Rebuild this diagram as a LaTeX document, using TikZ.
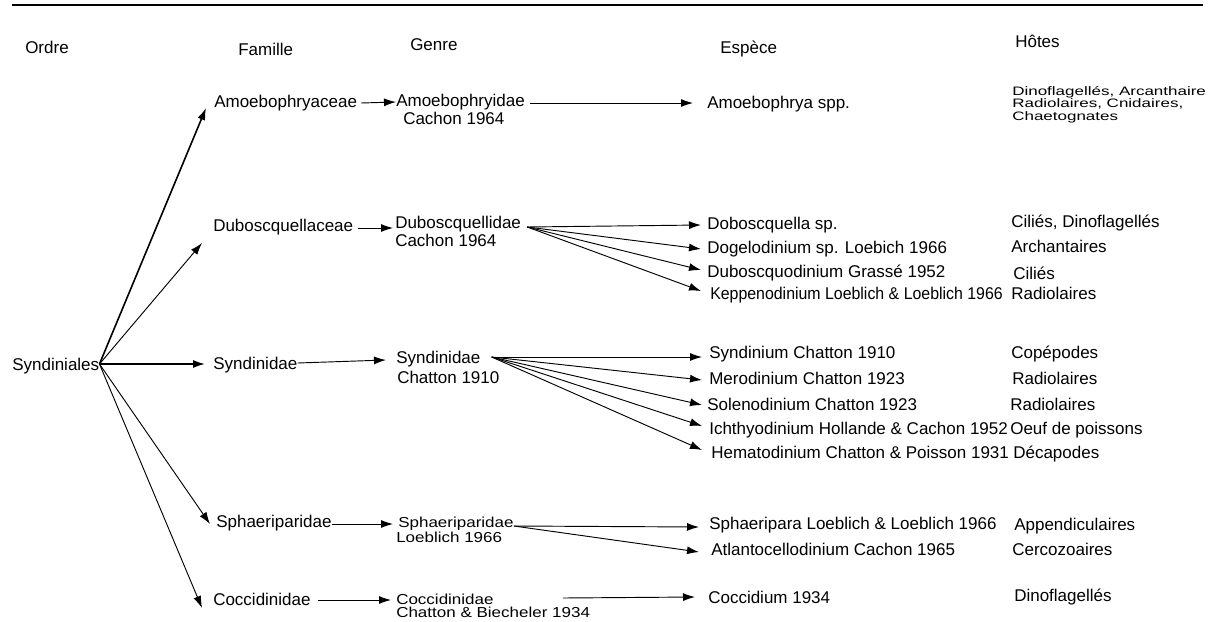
\documentclass[tikz,border=0pt]{standalone}
\usepackage{fontspec}
\usepackage{graphicx}
\setmainfont{Liberation Sans}
\usetikzlibrary{arrows.meta}

\tikzset{
  lbl/.style={anchor=west, inner sep=0pt, text height=9pt, text depth=0pt,
    font=\fontsize{12.75}{14}\selectfont},
  arr/.style={-{Latex[length=9pt,width=6pt]}, line width=0.7pt},
  barr/.style={arr, line width=1.2pt}
}
\newcommand\squashy[1]{\scalebox{1}[0.85]{#1}}

\begin{document}
\begin{tikzpicture}[x=0.75pt,y=-0.75pt]

\useasboundingbox (0,0) rectangle (1216,621);
\draw[line width=1.5pt] (12,5) -- (1203,5);

% titres des colonnes
\node[lbl] (hOrd) at (25,47) {Ordre};
\node[lbl] (hFam) at (238,49) {Famille};
\node[lbl] (hGen) at (410,44) {Genre};
\node[lbl] (hEsp) at (720,47) {Espèce};
\node[lbl] (hHot) at (1015,41) {Hôtes};

\node[lbl] (ord) at (12,364) {Syndiniales};

% familles
\node[lbl] (famA) at (214,101) {Amoebophryaceae};
\node[lbl] (famB) at (213,225) {Duboscquellaceae};
\node[lbl] (famC) at (213,363) {Syndinidae};
\node[lbl] (famD) at (216,521) {Sphaeriparidae};
\node[lbl] (famE) at (213,599) {Coccidinidae};

% genres
\node[lbl] (genA) at (396,100) {Amoebophryidae};
\node[lbl] (genAa) at (403,118) {Cachon 1964};
\node[lbl] (genB) at (395,222) {Duboscquellidae};
\node[lbl] (genBa) at (395,240) {Cachon 1964};
\node[lbl] (genC) at (396,357) {Syndinidae};
\node[lbl] (genCa) at (397,377) {Chatton 1910};
\node[lbl] (genD) at (398,521) {\squashy{Sphaeriparidae}};
\node[lbl] (genDa) at (396,536) {\squashy{Loeblich 1966}};
\node[lbl] (genE) at (396,598) {\squashy{Coccidinidae}};
\node[lbl] (genEa) at (396,611) {\squashy{Chatton \& Biecheler 1934}};

% especes
\node[lbl] (spA1) at (707,102) {Amoebophrya spp.};
\node[lbl] (spB1) at (707,223) {Doboscquella sp.};
\node[lbl] (spB2) at (707,247) {Dogelodinium sp. Loebich 1966};
\node[lbl] (spB3) at (707,271) {Duboscquodinium Grassé 1952};
\node[lbl] (spB4) at (710,293) {\scalebox{0.935}[1]{Keppenodinium Loeblich \& Loeblich 1966}};
\node[lbl] (spC1) at (709,352) {Syndinium Chatton 1910};
\node[lbl] (spC2) at (709,378) {Merodinium Chatton 1923};
\node[lbl] (spC3) at (707,404) {Solenodinium Chatton 1923};
\node[lbl] (spC4) at (709,428) {Ichthyodinium Hollande \& Cachon 1952};
\node[lbl] (spC5) at (711,452) {Hematodinium Chatton \& Poisson 1931};
\node[lbl] (spD1) at (709,523) {Sphaeripara Loeblich \& Loeblich 1966};
\node[lbl] (spD2) at (711,549) {Atlantocellodinium Cachon 1965};
\node[lbl] (spE1) at (708,597) {Coccidium 1934};

% hotes
\node[anchor=west,inner sep=0pt] (hoA) at (1012,105) {\scalebox{1}[0.72]{\fontsize{12.75}{11.5}\selectfont
  \begin{tabular}{@{}l@{}}Dinoflagellés, Arcanthaire\\ Radiolaires, Cnidaires,\\ Chaetognates\end{tabular}}};
\node[lbl] (hoB1) at (1011,221) {Ciliés, Dinoflagellés};
\node[lbl] (hoB2) at (1011,246) {Archantaires};
\node[lbl] (hoB3) at (1013,273) {Ciliés};
\node[lbl] (hoB4) at (1011,293) {Radiolaires};
\node[lbl] (hoC1) at (1011,352) {Copépodes};
\node[lbl] (hoC2) at (1012,378) {Radiolaires};
\node[lbl] (hoC3) at (1010,404) {Radiolaires};
\node[lbl] (hoC4) at (1010,428) {Oeuf de poissons};
\node[lbl] (hoC5) at (1013,452) {Décapodes};
\node[lbl] (hoD1) at (1014,524) {Appendiculaires};
\node[lbl] (hoD2) at (1012,549) {Cercozoaires};
\node[lbl] (hoE1) at (1014,595) {Dinoflagellés};

% ordre -> familles
\draw[barr] (ord.east) -- ([shift={(-8,7)}]famA.west);
\draw[arr] (ord.east) -- ([shift={(-11,18)}]famB.west);
\draw[barr] (ord.east) -- ([shift={(-8,1)}]famC.west);
\draw[arr] (ord.east) -- ([shift={(-6,3)}]famD.west);
\draw[arr] (ord.east) -- ([shift={(-11,9)}]famE.west);

% familles -> genres
\draw[arr] ([shift={(4,2)}]famA.east) -- ([shift={(0,2)}]genA.west);
\draw[arr] ([shift={(5,3)}]famB.east) -- ([shift={(-2,6)}]genB.west);
\draw[arr] (famC.east) -- ([shift={(-10,3)}]genC.west);
\draw[arr] ([shift={(0,3)}]famD.east) -- ([shift={(-5,3)}]genD.west);
\draw[arr] ([shift={(7,1)}]famE.east) -- ([shift={(-5,2)}]genE.west);

% genres -> especes
\draw[arr] ([shift={(5,3)}]genA.east) -- ([shift={(-14,1)}]spA1.west);

\coordinate (oB) at ([shift={(6,5)}]genB.east);
\draw[arr] (oB) -- ([shift={(-6,2)}]spB1.west);
\draw[arr] (oB) -- ([shift={(-6,2)}]spB2.west);
\draw[arr] (oB) -- ([shift={(-6,-1)}]spB3.west);
\draw[arr] (oB) -- ([shift={(-9,-2)}]spB4.west);

\coordinate (oC) at ([shift={(11,0)}]genC.east);
\draw[arr] (oC) -- ([shift={(-7,5)}]spC1.west);
\draw[arr] (oC) -- ([shift={(-7,2)}]spC2.west);
\draw[arr] (oC) -- ([shift={(-5,1)}]spC3.west);
\draw[arr] (oC) -- ([shift={(-7,-2)}]spC4.west);
\draw[arr] (oC) -- ([shift={(-9,-2)}]spC5.west);

\coordinate (oD) at ([shift={(0,5)}]genD.east);
\draw[arr] (oD) -- ([shift={(-10,4)}]spD1.west);
\draw[arr] (oD) -- ([shift={(-12,3)}]spD2.west);

\draw[arr] ([shift={(69,0)}]genE.east) -- ([shift={(-13,0)}]spE1.west);

\end{tikzpicture}
\end{document}
